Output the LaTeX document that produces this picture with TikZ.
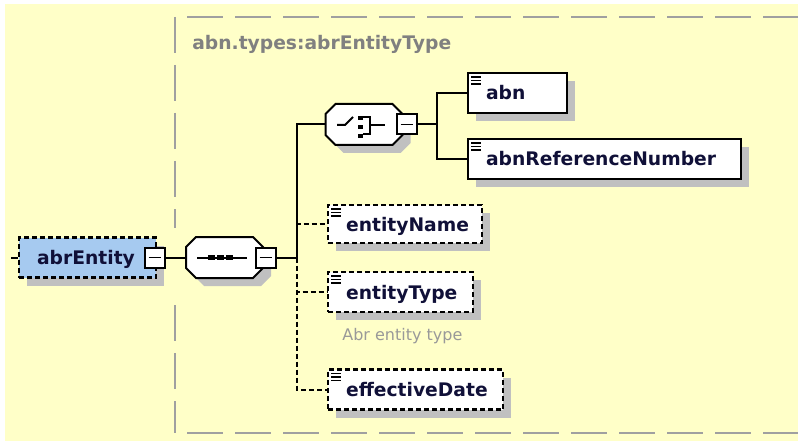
\documentclass[tikz,border=0pt]{standalone}
\usepackage{fontspec}
\setmainfont{DejaVu Sans}
\usetikzlibrary{shadows}

\definecolor{bgyellow}{RGB}{255,255,200}
\definecolor{elemblue}{RGB}{166,202,240}
\definecolor{shadowgray}{RGB}{192,192,192}
\definecolor{framegray}{RGB}{160,160,160}
\definecolor{ink}{RGB}{16,16,56}
\newcommand{\lbl}{\fontsize{18.7}{20}\selectfont\bfseries}
\newcommand{\octagon}[2]{([shift={(#2)},xshift=10pt]#1.north west) -- ([shift={(#2)},xshift=-10pt]#1.north east)
    -- ([shift={(#2)},yshift=-10pt]#1.north east) -- ([shift={(#2)},yshift=10pt]#1.south east)
    -- ([shift={(#2)},xshift=-10pt]#1.south east) -- ([shift={(#2)},xshift=10pt]#1.south west)
    -- ([shift={(#2)},yshift=10pt]#1.south west) -- ([shift={(#2)},yshift=-10pt]#1.north west) -- cycle}

\begin{document}
\begin{tikzpicture}[x=1pt,y=-1pt,line width=2pt,
    shade8/.style={drop shadow={shadow xshift=8pt,shadow yshift=-8pt,opacity=1,fill=shadowgray}},
    elem/.style={draw,line width=2.2pt,fill=white,shade8,anchor=west,align=left,
        minimum height=40pt,inner xsep=0pt,inner ysep=0pt,text height=17pt,text depth=3pt,
        font=\lbl,text=ink,execute at begin node=\hspace*{18pt}},
    optelem/.style={elem,dash pattern=on 5pt off 3pt},
    icon/.style={path picture={\foreach \k in {4,7.5,11}
        \draw[line width=1.2pt,solid] ([xshift=3pt,yshift=-\k pt]path picture bounding box.north west) -- ++(10pt,0pt);}},
    minus/.style={draw,solid,fill=white,line width=2pt,minimum size=20pt,inner sep=0pt,
        path picture={\draw[line width=1.6pt] ([xshift=-6pt]path picture bounding box.center) -- ([xshift=6pt]path picture bounding box.center);}},
    oct/.style={minimum width=75pt,minimum height=39pt,inner sep=0pt},
    optline/.style={dash pattern=on 5pt off 3pt},
    frame/.style={framegray,line width=2pt,dash pattern=on 36pt off 12pt},
    title/.style={anchor=base west,font=\lbl,text=gray},
    note/.style={anchor=base west,font=\fontsize{16}{18}\selectfont,text=black!40}]

    \useasboundingbox (0,0) rectangle (798,441);
    \fill[white] (0,0) rectangle (798,441);
    \fill[bgyellow] (5,4) rectangle (798,441);

    % type frame
    \draw[frame] (175,17) -- (175,228);
    \draw[frame] (175,305) -- (175,433);
    \draw[frame,dash phase=36pt] (175,17) -- (810,17);
    \draw[frame,dash phase=36pt] (175,433) -- (810,433);
    \node[title] (typeName) at (188,50) {abn.types:abrEntityType};

    % root element
    \coordinate (stub) at (11,257.5);
    \node[optelem,fill=elemblue,text width=137pt] (abrEntity) at (18,257.5) {abrEntity};
    \node[minus] (abrMinus) at (154.5,257.5) {};

    % compositors
    \node[oct] (seq) at (224.5,257.5) {};
    \node[oct] (choice) at (364,124.5) {};
    \foreach \o in {seq,choice} {
        \fill[shadowgray] \octagon{\o}{8pt,-8pt};
        \draw[fill=white,line width=2pt] \octagon{\o}{0pt,0pt};
    }
    \node[minus] (seqMinus) at (265.5,257.5) {};
    \node[minus] (choiceMinus) at (406.5,124.5) {};

    % sequence symbol
    \draw ([xshift=-27.5pt]seq.center) -- ([xshift=22.5pt]seq.center);
    \foreach \i in {-16.5,-7.5,1.5}
        \fill ([xshift=\i pt,yshift=2.5pt]seq.center) rectangle ++(7pt,-5pt);
    \coordinate (fork) at (297,257.5);

    % choice symbol
    \draw ([shift={(-27pt,-0.5pt)}]choice.center) -- ++(8pt,0pt) -- ++(8pt,8pt);
    \foreach \j in {8.5,-0.5,-9.5}
        \fill ([shift={(-6pt,\j pt)}]choice.center) rectangle ++(5pt,-4.5pt);
    \draw[line width=1.8pt] ([shift={(-1pt,7.5pt)}]choice.center) -- ++(7pt,0pt) -- ++(0pt,-17pt) -- ++(-7pt,0pt);
    \draw[line width=1.8pt] ([shift={(6pt,-0.5pt)}]choice.center) -- ++(15pt,0pt);
    \coordinate (cfork) at (437,124.5);

    % children
    \node[elem,icon,text width=99pt] (abn) at (467,93) {abn};
    \node[elem,icon,text width=273pt] (abnRef) at (467,159) {abnReferenceNumber};
    \node[optelem,icon,text width=154pt,minimum height=38pt] (entityName) at (327,224) {entityName};
    \node[optelem,icon,text width=145pt] (entityType) at (327,292) {entityType};
    \node[note] (entityTypeDoc) at (338,340) {Abr entity type};
    \node[optelem,icon,text width=175pt] (effectiveDate) at (327,389.5) {effectiveDate};

    \draw (stub) -- (abrEntity);
    \draw (abrMinus) -- (seq);
    \draw (seqMinus) -- (fork) |- (choice);
    \draw (choiceMinus) -- (cfork) |- (abn) (cfork) |- (abnRef);
    \draw[optline] (fork) |- (entityName) (fork) |- (entityType) (fork) |- (effectiveDate);
\end{tikzpicture}
\end{document}
